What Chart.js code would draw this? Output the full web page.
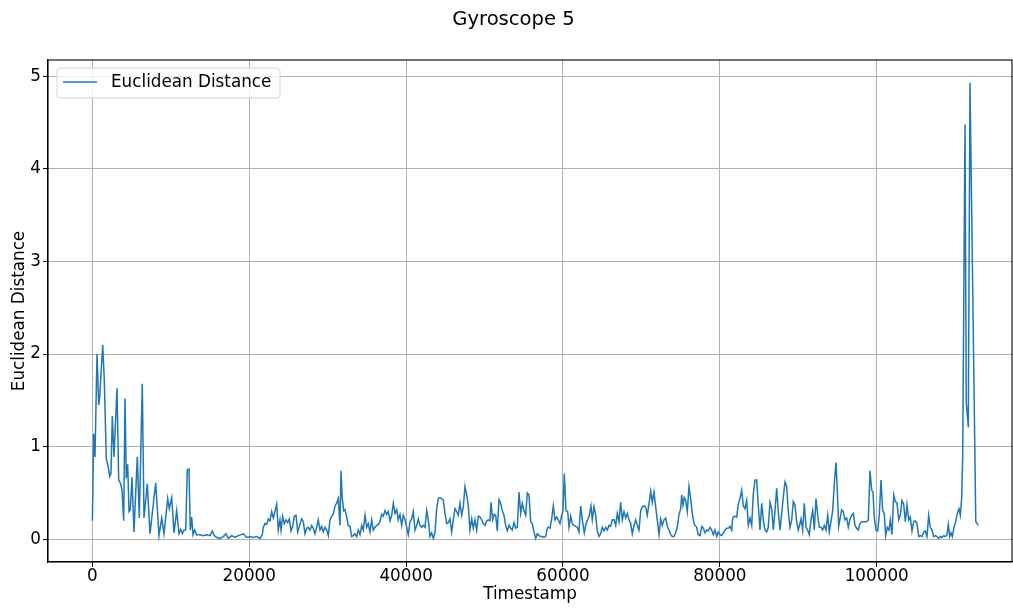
<!DOCTYPE html>
<html>
<head>
<meta charset="utf-8">
<script src="https://cdn.jsdelivr.net/npm/chart.js"></script>
<style>
  html, body { margin: 0; padding: 0; background: #fff; }
  #wrap { width: 1013px; height: 608px; }
</style>
</head>
<body>
<div id="wrap"><canvas id="gyroChart" width="1013" height="608"></canvas></div>
<script>
// values
const timestamps = [
    0, 166, 332, 587, 803, 931, 1313, 1517, 1772, 2027,
    2206, 2372, 2537, 2754, 3137, 3353, 3608, 3774, 3991, 4157,
    4322, 4500, 4667, 4832, 5049, 5304, 5725, 5980, 6362, 6579,
    7000, 7344, 8071, 8492, 8836, 9129, 9601, 9805, 10111, 10404,
    10748, 11042, 11258, 11462, 11679, 11896, 12100, 12317, 12482, 12661,
    12827, 13043, 13298, 13719, 14140, 14573, 14994, 15287, 15542, 15848,
    16269, 16690, 17034, 17327, 17761, 18182, 18602, 19240, 19673, 20094,
    20515, 20948, 21369, 21662, 21790, 22007, 22223, 22427, 22644, 22861,
    23065, 23282, 23498, 23702, 23919, 24047, 24263, 24467, 24684, 24901,
    25105, 25322, 25538, 25742, 25959, 26176, 26380, 26686, 26890, 27107,
    27324, 27527, 27744, 27961, 28165, 28382, 28598, 28802, 29019, 29236,
    29440, 29657, 29873, 30077, 30294, 30511, 30715, 30932, 31148, 31352,
    31569, 31697, 31862, 32041, 32207, 32423, 32627, 32844, 33061, 33265,
    33482, 33698, 33902, 34119, 34336, 34540, 34757, 34973, 35177, 35394,
    35611, 35815, 36032, 36248, 36452, 36669, 36886, 37090, 37307, 37523,
    37727, 37944, 38161, 38365, 38582, 38798, 39002, 39219, 39436, 39640,
    39857, 40073, 40277, 40494, 40711, 40915, 41132, 41348, 41552, 41769,
    41986, 42190, 42407, 42623, 42827, 43044, 43261, 43465, 43682, 43898,
    44102, 44319, 44536, 44740, 44957, 45173, 45377, 45594, 45811, 46015,
    46232, 46448, 46652, 46869, 47086, 47290, 47507, 47723, 47927, 48144,
    48361, 48565, 48782, 48998, 49202, 49419, 49636, 49840, 50057, 50273,
    50477, 50694, 50822, 51038, 51242, 51421, 51625, 51842, 52058, 52262,
    52479, 52696, 52900, 53117, 53333, 53537, 53754, 53971, 54175, 54392,
    54608, 54812, 55029, 55246, 55450, 55667, 55883, 56087, 56304, 56521,
    56725, 56942, 57158, 57362, 57579, 57796, 58000, 58127, 58344, 58561,
    58765, 58982, 59198, 59402, 59619, 59836, 60001, 60167, 60384, 60601,
    60767, 60983, 61187, 61404, 61621, 61825, 62042, 62258, 62462, 62717,
    62934, 63151, 63355, 63572, 63737, 63954, 64171, 64375, 64592, 64808,
    65012, 65229, 65446, 65650, 65867, 66083, 66287, 66504, 66721, 66925,
    67142, 67358, 67562, 67779, 67996, 68200, 68417, 68633, 68837, 69054,
    69271, 69475, 69692, 69908, 70112, 70329, 70546, 70750, 70967, 71183,
    71387, 71604, 71821, 72025, 72242, 72458, 72662, 72879, 73096, 73300,
    73517, 73733, 73937, 74154, 74371, 74575, 74792, 75008, 75136, 75302,
    75467, 75646, 75850, 76067, 76283, 76487, 76704, 76832, 77048, 77252,
    77469, 77686, 77890, 78107, 78323, 78527, 78744, 78961, 79165, 79382,
    79598, 79802, 80019, 80236, 80440, 80657, 80873, 81077, 81294, 81511,
    81638, 81842, 82148, 82352, 82569, 82786, 82990, 83207, 83423, 83627,
    83844, 84061, 84265, 84482, 84698, 84902, 85119, 85336, 85540, 85757,
    85973, 86177, 86394, 86611, 86815, 87032, 87248, 87452, 87669, 87886,
    88090, 88307, 88523, 88727, 88944, 89161, 89365, 89582, 89798, 90002,
    90219, 90347, 90563, 90767, 90984, 91201, 91405, 91622, 91838, 92042,
    92259, 92476, 92680, 92897, 93113, 93317, 93534, 93751, 93955, 94172,
    94388, 94592, 94809, 94975, 95153, 95319, 95536, 95740, 95957, 96173,
    96377, 96594, 96811, 97015, 97232, 97448, 97652, 97869, 98086, 98290,
    98507, 98723, 98927, 99144, 99361, 99527, 99692, 99909, 100126, 100330,
    100547, 100763, 100967, 101146, 101350, 101567, 101733, 101949, 102166, 102370,
    102587, 102804, 103008, 103224, 103441, 103645, 103862, 104079, 104283, 104499,
    104716, 104920, 105137, 105354, 105558, 105774, 105991, 106195, 106412, 106628,
    106832, 107049, 107266, 107470, 107687, 107903, 108107, 108324, 108541, 108745,
    108962, 109127, 109306, 109472, 109637, 109854, 110071, 110275, 110492, 110657,
    110836, 110963, 111257, 111422, 111677, 111894, 112634, 112953
];

const distances = [
    0.20, 1.14, 0.89, 2.00, 1.45, 1.54, 2.10, 1.72, 0.87, 0.78,
    0.68, 0.71, 1.33, 0.89, 1.63, 0.64, 0.60, 0.53, 0.20, 1.52,
    0.66, 0.81, 0.30, 0.32, 0.67, 0.08, 0.89, 0.23, 1.68, 0.23,
    0.60, 0.06, 0.61, 0.04, 0.23, 0.06, 0.44, 0.33, 0.45, 0.07,
    0.31, 0.06, 0.11, 0.06, 0.10, 0.10, 0.75, 0.76, 0.10, 0.24,
    0.05, 0.10, 0.05, 0.05, 0.04, 0.05, 0.04, 0.09, 0.04, 0.02,
    0.01, 0.03, 0.06, 0.01, 0.04, 0.02, 0.04, 0.06, 0.02, 0.03,
    0.02, 0.03, 0.01, 0.05, 0.13, 0.17, 0.16, 0.22, 0.20, 0.30,
    0.23, 0.30, 0.38, 0.10, 0.21, 0.10, 0.25, 0.17, 0.21, 0.18,
    0.22, 0.09, 0.14, 0.25, 0.26, 0.08, 0.14, 0.22, 0.19, 0.06,
    0.12, 0.13, 0.10, 0.15, 0.12, 0.06, 0.13, 0.21, 0.10, 0.14,
    0.08, 0.13, 0.10, 0.04, 0.21, 0.25, 0.27, 0.36, 0.39, 0.44,
    0.15, 0.74, 0.44, 0.31, 0.32, 0.24, 0.15, 0.14, 0.03, 0.04,
    0.06, 0.03, 0.10, 0.05, 0.15, 0.10, 0.26, 0.13, 0.17, 0.08,
    0.21, 0.10, 0.13, 0.15, 0.16, 0.19, 0.27, 0.25, 0.31, 0.27,
    0.30, 0.20, 0.26, 0.39, 0.28, 0.32, 0.21, 0.27, 0.15, 0.26,
    0.21, 0.13, 0.05, 0.19, 0.22, 0.30, 0.10, 0.15, 0.22, 0.15,
    0.13, 0.15, 0.13, 0.31, 0.21, 0.03, 0.07, 0.01, 0.07, 0.33,
    0.44, 0.45, 0.44, 0.42, 0.28, 0.17, 0.18, 0.22, 0.08, 0.21,
    0.33, 0.30, 0.26, 0.39, 0.26, 0.35, 0.57, 0.48, 0.36, 0.10,
    0.22, 0.12, 0.21, 0.10, 0.25, 0.24, 0.21, 0.17, 0.15, 0.20,
    0.21, 0.20, 0.40, 0.21, 0.27, 0.26, 0.09, 0.43, 0.39, 0.31,
    0.26, 0.15, 0.09, 0.15, 0.12, 0.10, 0.18, 0.12, 0.13, 0.51,
    0.28, 0.39, 0.31, 0.26, 0.50, 0.48, 0.19, 0.17, 0.08, 0.01,
    0.06, 0.04, 0.03, 0.03, 0.02, 0.03, 0.12, 0.13, 0.12, 0.22,
    0.36, 0.21, 0.24, 0.21, 0.17, 0.26, 0.31, 0.71, 0.31, 0.30,
    0.13, 0.25, 0.17, 0.15, 0.14, 0.13, 0.08, 0.36, 0.21, 0.07,
    0.17, 0.21, 0.26, 0.36, 0.21, 0.35, 0.26, 0.09, 0.03, 0.06,
    0.13, 0.09, 0.13, 0.10, 0.15, 0.14, 0.21, 0.21, 0.15, 0.28,
    0.19, 0.40, 0.21, 0.30, 0.23, 0.28, 0.21, 0.17, 0.06, 0.15,
    0.21, 0.15, 0.10, 0.31, 0.35, 0.36, 0.35, 0.26, 0.38, 0.52,
    0.40, 0.51, 0.35, 0.21, 0.05, 0.22, 0.15, 0.21, 0.23, 0.14,
    0.10, 0.05, 0.03, 0.03, 0.07, 0.13, 0.27, 0.33, 0.48, 0.37,
    0.45, 0.42, 0.30, 0.57, 0.44, 0.28, 0.17, 0.15, 0.13, 0.05,
    0.04, 0.14, 0.12, 0.07, 0.10, 0.09, 0.13, 0.10, 0.05, 0.10,
    0.03, 0.08, 0.05, 0.04, 0.07, 0.10, 0.12, 0.12, 0.14, 0.10,
    0.23, 0.25, 0.24, 0.38, 0.44, 0.53, 0.36, 0.33, 0.42, 0.15,
    0.23, 0.15, 0.49, 0.64, 0.64, 0.37, 0.10, 0.39, 0.21, 0.10,
    0.08, 0.13, 0.40, 0.33, 0.10, 0.31, 0.55, 0.30, 0.10, 0.28,
    0.46, 0.62, 0.57, 0.30, 0.13, 0.21, 0.41, 0.37, 0.19, 0.10,
    0.17, 0.22, 0.10, 0.39, 0.13, 0.10, 0.05, 0.21, 0.31, 0.10,
    0.44, 0.26, 0.13, 0.13, 0.10, 0.15, 0.10, 0.26, 0.08, 0.19,
    0.31, 0.60, 0.83, 0.53, 0.14, 0.22, 0.32, 0.30, 0.21, 0.23,
    0.13, 0.22, 0.26, 0.28, 0.15, 0.12, 0.10, 0.17, 0.19, 0.19,
    0.19, 0.19, 0.21, 0.74, 0.53, 0.51, 0.24, 0.10, 0.09, 0.26,
    0.64, 0.31, 0.28, 0.04, 0.13, 0.10, 0.21, 0.05, 0.48, 0.41,
    0.39, 0.21, 0.26, 0.42, 0.38, 0.19, 0.37, 0.21, 0.24, 0.09,
    0.19, 0.20, 0.17, 0.03, 0.04, 0.03, 0.08, 0.09, 0.03, 0.26,
    0.13, 0.10, 0.03, 0.04, 0.03, 0.01, 0.03, 0.02, 0.04, 0.03,
    0.05, 0.16, 0.03, 0.07, 0.03, 0.13, 0.19, 0.28, 0.33, 0.26,
    0.45, 0.90, 4.48, 1.47, 1.21, 4.93, 0.19, 0.15
];

const xTicks = [0, 20000, 40000, 60000, 80000, 100000];
const yTicks = [0, 1, 2, 3, 4, 5];
const chartTitle = 'Gyroscope 5';

const FONT = "'DejaVu Sans', sans-serif";

// matplotlib-style frame on all four sides, the boxed legend and the figure title
const frameAndLegend = {
    id: 'frameAndLegend',
    afterDatasetsDraw(chart) {
        const ctx = chart.ctx, a = chart.chartArea;
        ctx.save();
        ctx.strokeStyle = '#000';
        ctx.lineWidth = 1.1;
        ctx.strokeRect(a.left, a.top, a.right - a.left, a.bottom - a.top);

        const ds = chart.data.datasets[0];
        const x = a.left + 9, y = a.top + 8, w = 223, h = 30;
        ctx.beginPath();
        ctx.roundRect(x, y, w, h, 3);
        ctx.fillStyle = 'rgba(255,255,255,0.8)';
        ctx.fill();
        ctx.strokeStyle = '#d4d4d4';
        ctx.lineWidth = 1;
        ctx.stroke();

        ctx.beginPath();
        ctx.moveTo(x + 6, y + 14);
        ctx.lineTo(x + 40, y + 14);
        ctx.strokeStyle = ds.borderColor;
        ctx.lineWidth = ds.borderWidth;
        ctx.stroke();

        ctx.fillStyle = '#000';
        ctx.font = '16.8px ' + FONT;
        ctx.textBaseline = 'middle';
        ctx.fillText(ds.label, x + 54, y + 15);

        // suptitle sits a bit right of the canvas centre in the original
        ctx.font = '19.6px ' + FONT;
        ctx.textAlign = 'center';
        ctx.fillText(chartTitle, 513.5, 20);
        ctx.restore();
    }
};

new Chart(document.getElementById('gyroChart').getContext('2d'), {
    type: 'line',
    data: {
        datasets: [{
            label: 'Euclidean Distance',
            data: timestamps.map((t, i) => ({ x: t, y: distances[i] })),
            borderColor: '#1f77b4',
            borderWidth: 1.5,
            pointRadius: 0,
            tension: 0,
            fill: false
        }]
    },
    options: {
        responsive: false,
        animation: false,
        devicePixelRatio: 1,
        layout: { padding: { top: 60, right: 1 } },
        plugins: {
            legend: { display: false },
            tooltip: { enabled: false },
            title: { display: false }
        },
        scales: {
            x: {
                type: 'linear',
                min: -5660,
                max: 117250,
                afterBuildTicks: s => { s.ticks = xTicks.map(v => ({ value: v })); },
                afterFit: s => { s.height = 46; },
                ticks: {
                    color: '#000',
                    font: { family: FONT, size: 16.8 },
                    padding: 0,
                    maxRotation: 0,
                    callback: v => String(v)
                },
                grid: { color: '#b0b0b0', lineWidth: 1, tickColor: '#000', tickLength: 5, tickWidth: 1 },
                border: { color: '#000', width: 1.1 },
                title: {
                    display: true,
                    text: 'Timestamp',
                    color: '#000',
                    font: { family: FONT, size: 16.8 },
                    padding: { top: 0, bottom: 3 }
                }
            },
            y: {
                type: 'linear',
                min: -0.245,
                max: 5.176,
                afterBuildTicks: s => { s.ticks = yTicks.map(v => ({ value: v })); },
                afterFit: s => { s.width = 48; },
                ticks: {
                    color: '#000',
                    font: { family: FONT, size: 16.8 },
                    padding: 2,
                    callback: v => String(v)
                },
                grid: { color: '#b0b0b0', lineWidth: 1, tickColor: '#000', tickLength: 5, tickWidth: 1 },
                border: { color: '#000', width: 1.1 },
                title: {
                    display: true,
                    text: 'Euclidean Distance',
                    color: '#000',
                    font: { family: FONT, size: 16.8 },
                    padding: { top: 10, bottom: 0 }
                }
            }
        }
    },
    plugins: [frameAndLegend]
});
</script>
</body>
</html>
